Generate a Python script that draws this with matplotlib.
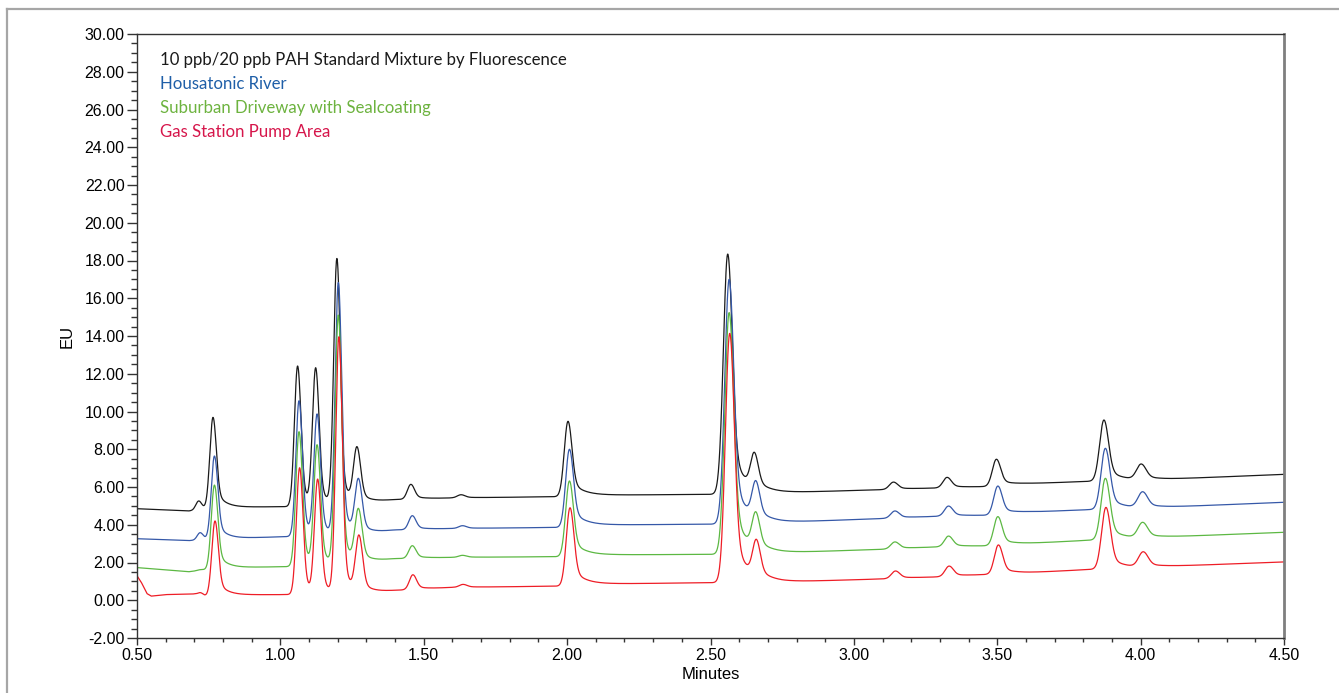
import numpy as np
import matplotlib
matplotlib.use("Agg")
import matplotlib.pyplot as plt
from matplotlib.ticker import MultipleLocator, FormatStrFormatter
from matplotlib.lines import Line2D

## peak table (minutes)
peak_times = [0.715, 0.765, 1.060, 1.123, 1.197, 1.267, 1.455, 1.630,
              2.003, 2.560, 2.653, 3.138, 3.325, 3.497, 3.872, 4.002]
peak_sigma = [0.010, 0.011, 0.011, 0.011, 0.011, 0.012, 0.012, 0.013,
              0.013, 0.015, 0.013, 0.014, 0.014, 0.014, 0.015, 0.016]
peak_tail = [0.020, 0.030, 0.022, 0.022, 0.022, 0.030, 0.035, 0.040,
             0.040, 0.045, 0.045, 0.040, 0.040, 0.045, 0.045, 0.050]

## apex values (EU) for each trace
apex_std = [5.26, 9.69, 12.41, 12.32, 18.11, 8.14, 6.14, 5.59,
            9.48, 18.34, 7.84, 6.26, 6.51, 7.47, 9.55, 7.22]
apex_river = [3.58, 7.64, 10.57, 9.87, 16.83, 6.46, 4.48, 3.95,
              8.00, 17.00, 6.34, 4.73, 4.99, 6.05, 8.05, 5.75]
apex_drive = [1.62, 6.10, 8.93, 8.24, 15.11, 4.87, 2.89, 2.38,
              6.32, 15.24, 4.69, 3.09, 3.40, 4.43, 6.46, 4.13]
apex_gas = [0.40, 4.20, 7.02, 6.42, 13.96, 3.46, 1.35, 0.84,
            4.90, 14.14, 3.23, 1.55, 1.81, 2.93, 4.92, 2.57]

## retention time shift of each run (minutes)
shift_std, shift_river, shift_drive, shift_gas = 0.0, 0.005, 0.005, 0.007

## baselines (minutes, EU)
base_t = [0.50, 0.68, 0.80, 1.02, 1.30, 1.40, 1.60, 1.98, 2.04, 2.50,
          2.75, 3.10, 3.30, 3.46, 3.60, 3.82, 4.10, 4.50]
base_std = [4.85, 4.73, 4.92, 4.96, 5.20, 5.33, 5.42, 5.49, 5.56, 5.61,
            5.70, 5.86, 5.95, 6.02, 6.17, 6.30, 6.42, 6.67]
base_river = [3.26, 3.16, 3.26, 3.37, 3.55, 3.72, 3.80, 3.86, 3.98, 4.03,
              4.13, 4.33, 4.45, 4.50, 4.66, 4.80, 4.94, 5.19]
base_drive = [1.73, 1.51, 1.72, 1.78, 2.05, 2.20, 2.27, 2.31, 2.40, 2.43,
              2.52, 2.70, 2.83, 2.88, 3.00, 3.18, 3.36, 3.60]
gas_base_t = [0.50, 0.515, 0.535, 0.55, 0.60, 0.70, 0.735, 0.80, 1.02, 1.30,
              1.40, 1.60, 1.98, 2.04, 2.50, 2.75, 3.10, 3.30, 3.46, 3.60,
              3.82, 4.10, 4.50]
base_gas = [1.30, 0.95, 0.35, 0.22, 0.30, 0.33, 0.20, 0.28, 0.30, 0.42,
            0.52, 0.68, 0.75, 0.85, 0.93, 0.97, 1.13, 1.24, 1.36, 1.45,
            1.63, 1.80, 2.03]

labels = ["10 ppb/20 ppb PAH Standard Mixture by Fluorescence",
          "Housatonic River",
          "Suburban Driveway with Sealcoating",
          "Gas Station Pump Area"]
line_colors = ["#1a1a1a", "#3558a8", "#5cb843", "#ee1d26"]
text_colors = ["#1a1a1a", "#1f5fa8", "#6db33f", "#d6164b"]


def peak_shape(t, t0, sig, tau, a=0.25):
    # gaussian core with a smooth exponential tail on the right
    d = t - t0
    g = np.exp(-d ** 2 / (2 * sig ** 2))
    tail = np.where(d > 0, (1 - g) * np.exp(-np.clip(d, 0, None) / tau), 0)
    return g + a * tail


def trace(t, apex, shift, bt, bv):
    centers = np.array(peak_times) + shift
    base_at = np.interp(centers, bt, bv)
    # heights chosen so each apex lands on the read value
    A = np.array([[peak_shape(ci, cj, s, k) for cj, s, k in
                   zip(centers, peak_sigma, peak_tail)] for ci in centers])
    h = np.linalg.solve(A, np.array(apex) - base_at)
    y = np.interp(t, bt, bv)
    for cj, s, k, hj in zip(centers, peak_sigma, peak_tail, h):
        y = y + hj * peak_shape(t, cj, s, k)
    return y


t = np.linspace(0.5, 4.5, 6001)
runs = [(apex_std, shift_std, base_t, base_std),
        (apex_river, shift_river, base_t, base_river),
        (apex_drive, shift_drive, base_t, base_drive),
        (apex_gas, shift_gas, gas_base_t, base_gas)]

plt.rcParams['font.family'] = ['Liberation Sans', 'DejaVu Sans']

fig = plt.figure(figsize=(13.39, 6.93), dpi=100)
ax = fig.add_axes([137 / 1339, 55 / 693, 1147 / 1339, 604 / 693])

for (apex, shift, bt, bv), c in zip(runs, line_colors):
    ax.plot(t, trace(t, apex, shift, bt, bv), color=c, lw=0.9)

ax.set_xlim(0.5, 4.5)
ax.set_ylim(-2, 30)
ax.xaxis.set_major_locator(MultipleLocator(0.5))
ax.xaxis.set_minor_locator(MultipleLocator(0.1))
ax.yaxis.set_major_locator(MultipleLocator(2))
ax.yaxis.set_minor_locator(MultipleLocator(0.5))
ax.xaxis.set_major_formatter(FormatStrFormatter('%.2f'))
ax.yaxis.set_major_formatter(FormatStrFormatter('%.2f'))
ax.tick_params(axis='y', which='major', length=7, width=1, color='#333333',
               labelsize=11.5, pad=2)
ax.tick_params(axis='y', which='minor', length=4.3, width=1, color='#333333')
ax.tick_params(axis='x', which='major', length=5, width=1, color='#333333',
               labelsize=11.5, pad=2)
ax.tick_params(axis='x', which='minor', length=3, width=1, color='#333333')
for s in ['left', 'bottom', 'top']:
    ax.spines[s].set_color('#333333')
    ax.spines[s].set_linewidth(1)
ax.spines['right'].set_color('#7f7f7f')
ax.spines['right'].set_linewidth(2)

ax.set_xlabel('Minutes', fontsize=12, labelpad=3)
ax.set_ylabel('EU', fontsize=12, labelpad=7)

for i, (txt, c) in enumerate(zip(labels, text_colors)):
    fig.text(160 / 1339, 1 - (60 + 24 * i) / 693, txt, color=c,
             fontsize=12.1, family=['Lato', 'DejaVu Sans'], va='center')

## outer frame (top and left edges)
fig.add_artist(Line2D([7 / 1339, 1], [1 - 9 / 693, 1 - 9 / 693],
                      transform=fig.transFigure, color='#a6a6a6', lw=1.6))
fig.add_artist(Line2D([7 / 1339, 7 / 1339], [0, 1 - 9 / 693],
                      transform=fig.transFigure, color='#a6a6a6', lw=1.6))

fig.savefig('out.png', dpi=100)
